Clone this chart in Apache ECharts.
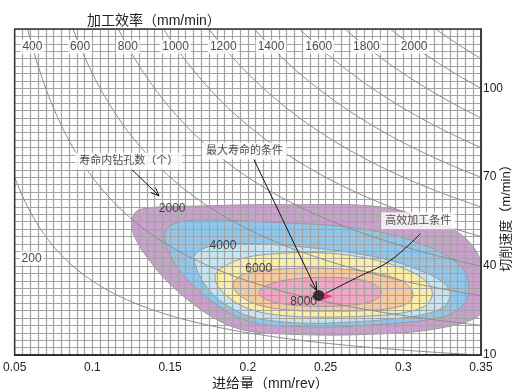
<!DOCTYPE html>
<html>
<head>
<meta charset="utf-8">
<script src="https://cdn.jsdelivr.net/npm/echarts@6/dist/echarts.min.js"></script>
<style>
  html, body { margin: 0; padding: 0; background: #fff; }
  #chart { width: 512px; height: 389px; }
</style>
</head>
<body>
<div id="chart"></div>
<script>
// ---- Axes ----
const FEED_TICKS = [0.05, 0.1, 0.15, 0.2, 0.25, 0.3, 0.35];
const FEED_TICK_LABELS = ['0.05', '0.1', '0.15', '0.2', '0.25', '0.3', '0.35'];
const SPEED_TICKS = [10, 40, 70, 100];
const SPEED_TICK_LABELS = ['10', '40', '70', '100'];

// ---- Machining efficiency (mm/min) = feed x spindle speed ----
const DRILL_DIAMETER = 5.57; // mm
const EFFICIENCY_LEVELS = [200, 400, 600, 800, 1000, 1200, 1400, 1600, 1800, 2000, 2200];
const EFFICIENCY_TOP_LABELS = [400, 600, 800, 1000, 1200, 1400, 1600, 1800, 2000];

// ---- Holes drilled per tool life: contour boundaries [feed, speed], outer to inner ----
const LIFE_LEVELS = [2000, 3000, 4000, 5000, 6000, 7000];
const LIFE_2000 = [
  [0.1256, 52.6], [0.1263, 57.0], [0.1301, 59.0], [0.1442, 60.0], [0.1699, 60.3],
  [0.2019, 60.7], [0.2340, 60.7], [0.2660, 60.7], [0.2885, 59.7], [0.3077, 57.3],
  [0.3269, 53.6], [0.3397, 49.6], [0.3481, 44.0], [0.3500, 39.5], [0.3500, 24.4],
  [0.3417, 21.4], [0.3269, 19.4], [0.3045, 17.7], [0.2788, 17.0], [0.2532, 16.7],
  [0.2276, 17.0], [0.2051, 17.7], [0.1891, 19.7], [0.1731, 24.1], [0.1603, 29.1],
  [0.1474, 35.2], [0.1378, 41.2], [0.1301, 46.9]
];
const LIFE_3000 = [
  [0.1462, 50.3], [0.1494, 53.3], [0.1571, 55.0], [0.1731, 55.6], [0.1955, 55.3],
  [0.2212, 54.6], [0.2468, 54.0], [0.2724, 52.6], [0.2949, 50.3], [0.3141, 46.9],
  [0.3301, 42.9], [0.3397, 37.9], [0.3423, 31.8], [0.3378, 26.4], [0.3269, 23.1],
  [0.3045, 21.1], [0.2788, 20.1], [0.2532, 19.4], [0.2276, 19.7], [0.2083, 20.4],
  [0.1923, 23.1], [0.1776, 27.8], [0.1647, 33.5], [0.1551, 39.2], [0.1494, 44.6]
];
const LIFE_4000 = [
  [0.1654, 43.2], [0.1699, 45.6], [0.1795, 46.9], [0.1955, 47.6], [0.2179, 47.2],
  [0.2404, 46.2], [0.2660, 44.6], [0.2917, 41.9], [0.3109, 38.5], [0.3250, 34.8],
  [0.3301, 30.8], [0.3263, 26.4], [0.3141, 23.8], [0.2917, 22.1], [0.2660, 21.1],
  [0.2404, 20.7], [0.2179, 21.4], [0.2006, 23.1], [0.1878, 26.4], [0.1763, 31.1],
  [0.1686, 37.2], [0.1660, 40.9]
];
const LIFE_5000 = [
  [0.1795, 37.5], [0.1859, 40.2], [0.1987, 42.9], [0.2179, 44.2], [0.2404, 44.6],
  [0.2660, 43.6], [0.2885, 41.2], [0.3058, 37.9], [0.3160, 34.2], [0.3186, 30.1],
  [0.3135, 26.4], [0.2981, 24.1], [0.2756, 23.1], [0.2500, 22.8], [0.2276, 23.1],
  [0.2083, 24.4], [0.1942, 27.1], [0.1840, 31.1], [0.1795, 34.5]
];
const LIFE_6000 = [
  [0.1910, 34.8], [0.1974, 37.2], [0.2083, 38.5], [0.2276, 39.2], [0.2532, 39.2],
  [0.2756, 38.2], [0.2936, 36.2], [0.3045, 32.8], [0.3058, 29.1], [0.2981, 26.4],
  [0.2788, 25.1], [0.2532, 24.8], [0.2276, 25.1], [0.2071, 26.8], [0.1955, 29.8],
  [0.1910, 32.5]
];
const LIFE_7000 = [
  [0.2071, 31.1], [0.2135, 33.8], [0.2276, 35.5], [0.2468, 36.2], [0.2660, 35.8],
  [0.2801, 34.2], [0.2859, 31.1], [0.2814, 28.5], [0.2660, 26.8], [0.2436, 26.4],
  [0.2244, 27.1], [0.2115, 28.8]
];
const LIFE_CONTOURS = [LIFE_2000, LIFE_3000, LIFE_4000, LIFE_5000, LIFE_6000, LIFE_7000];
const LIFE_LABEL_VALUES = [2000, 4000, 6000, 8000];

// ---- Highlighted conditions [feed, speed] ----
const MAX_LIFE_POINT = [0.2455, 30.1];
const HIGH_EFFICIENCY_POINT = [0.2513, 29.8];

// ---- Styling and annotation layout ----
const LIFE_COLORS = ['#c9a1cd', '#8ec6ec', '#c6e5f2', '#fbeea6', '#f6c9a1', '#f1a6c4'];
const LIFE_LABEL_ANCHORS = [[0.1513, 59.3], [0.1840, 46.9], [0.2070, 39.2], [0.2359, 28.0]];
const TOP_LABEL_SPEED = 114;
const LEFT_LABEL = { text: '200', at: [0.0609, 42.6] };
const NOTES = [
  { text: '寿命内钻孔数（个）', at: [0.1234, 75.4] },
  { text: '最大寿命的条件', at: [0.1978, 78.8] },
  { text: '高效加工条件', at: [0.3096, 55.3] }
];
const ARROWS = [
  { path: [[0.1250, 72.75], [0.1429, 63.7]], head: true },
  { path: [[0.2038, 76.1], [0.2442, 31.8]], head: true },
  { path: [[0.3109, 50.9], [0.2917, 41.9], [0.2705, 36.2], [0.2500, 30.8]], head: false }
];

const FONT = '"Liberation Sans", "Noto Sans CJK SC", sans-serif';
const K = Math.PI * DRILL_DIAMETER / 1000;

function speedFor(eff, feed) { return eff * K / feed; }

function tickLabel(ticks, labels) {
  return function (v) {
    const i = ticks.findIndex(t => Math.abs(t - v) < 1e-6);
    return i >= 0 ? labels[i] : '';
  };
}

const series = [];

// Tool-life bands
LIFE_CONTOURS.forEach((pts, i) => {
  series.push({
    type: 'custom',
    name: 'life' + LIFE_LEVELS[i],
    coordinateSystem: 'cartesian2d',
    z: 1,
    silent: true,
    clip: true,
    data: [pts[0]],
    renderItem: function (params, api) {
      return {
        type: 'polygon',
        shape: { points: pts.map(p => api.coord(p)), smooth: 0.35 },
        style: { fill: LIFE_COLORS[i], stroke: '#9a9a9a', lineWidth: 1 }
      };
    }
  });
});

// Iso-efficiency curves
EFFICIENCY_LEVELS.forEach(eff => {
  const data = [];
  for (let k = 0; k <= 300; k++) {
    const f = 0.05 + k * 0.001;
    const v = speedFor(eff, f);
    if (v <= 140 && v >= 8) data.push([f, v]);
  }
  series.push({
    type: 'line',
    data: data,
    showSymbol: false,
    smooth: false,
    clip: true,
    silent: true,
    z: 4,
    lineStyle: { color: '#8c8c8c', width: 1 }
  });
});

// Arrows and leader lines
series.push({
  type: 'custom',
  coordinateSystem: 'cartesian2d',
  z: 7,
  silent: true,
  data: ARROWS.map(a => a.path[0]),
  renderItem: function (params, api) {
    const a = ARROWS[params.dataIndex];
    const pts = a.path.map(p => api.coord(p));
    const children = [{
      type: 'polyline',
      shape: { points: pts, smooth: a.path.length > 2 ? 0.4 : 0 },
      style: { stroke: '#111', lineWidth: 1, fill: null }
    }];
    if (a.head) {
      const tip = pts[pts.length - 1], prev = pts[pts.length - 2];
      const ang = Math.atan2(tip[1] - prev[1], tip[0] - prev[0]);
      const L = 9, w = 0.4;
      children.push({
        type: 'polyline',
        shape: { points: [
          [tip[0] - L * Math.cos(ang - w), tip[1] - L * Math.sin(ang - w)],
          tip,
          [tip[0] - L * Math.cos(ang + w), tip[1] - L * Math.sin(ang + w)]
        ] },
        style: { stroke: '#111', lineWidth: 1, fill: null }
      });
    }
    return { type: 'group', children: children };
  }
});

// Efficiency labels along the top
series.push({
  type: 'scatter',
  z: 6,
  silent: true,
  symbolSize: 0,
  data: EFFICIENCY_TOP_LABELS.map(e => ({ value: [e * K / TOP_LABEL_SPEED, TOP_LABEL_SPEED], name: String(e) }))
    .concat([{ value: LEFT_LABEL.at, name: LEFT_LABEL.text }]),
  label: {
    show: true, position: 'inside', formatter: '{b}',
    color: '#222', fontFamily: FONT, fontSize: 12,
    backgroundColor: '#fff', padding: [1, 2]
  }
});

// Tool-life contour labels
series.push({
  type: 'scatter',
  z: 6,
  silent: true,
  symbolSize: 0,
  data: LIFE_LABEL_VALUES.map((v, i) => ({ value: LIFE_LABEL_ANCHORS[i], name: String(v) })),
  label: {
    show: true, position: 'inside', formatter: '{b}',
    color: '#222', fontFamily: FONT, fontSize: 12
  }
});

// Note boxes
series.push({
  type: 'scatter',
  z: 8,
  silent: true,
  symbolSize: 0,
  data: NOTES.map(n => ({ value: n.at, name: n.text })),
  label: {
    show: true, position: 'inside', formatter: '{b}',
    color: '#222', fontFamily: FONT, fontSize: 11,
    backgroundColor: '#fff', padding: [3, 4]
  }
});

// High-efficiency marker and maximum-life point
series.push({
  type: 'scatter',
  z: 9,
  silent: true,
  data: [HIGH_EFFICIENCY_POINT],
  symbol: 'triangle',
  symbolRotate: -90,
  symbolSize: [8, 10],
  itemStyle: { color: '#e5227f' }
});
series.push({
  type: 'scatter',
  z: 10,
  silent: true,
  data: [MAX_LIFE_POINT],
  symbol: 'circle',
  symbolSize: 11,
  itemStyle: { color: '#111' }
});

const chart = echarts.init(document.getElementById('chart'), null, { renderer: 'canvas' });
chart.setOption({
  animation: false,
  backgroundColor: '#fff',
  title: [
    { text: '加工效率（mm/min）', left: 82, top: 9,
      textStyle: { fontFamily: FONT, fontSize: 14, fontWeight: 'normal', color: '#222' } },
    { text: '进给量（mm/rev）', left: 207, top: 372,
      textStyle: { fontFamily: FONT, fontSize: 14, fontWeight: 'normal', color: '#222' } }
  ],
  graphic: [{
    type: 'text', x: 506, y: 215, rotation: Math.PI / 2,
    style: { text: '切削速度（m/min）', font: '13px ' + FONT, fill: '#222',
      textAlign: 'center', textVerticalAlign: 'middle' }
  }],
  grid: {
    left: 13, right: 31, top: 29, bottom: 34, show: true, z: 5,
    borderColor: '#333', borderWidth: 1.5, backgroundColor: 'transparent'
  },
  xAxis: {
    type: 'value', min: 0.05, max: 0.35, interval: 0.005, z: 3,
    axisLine: { show: true, lineStyle: { color: '#333', width: 2 } },
    axisTick: { show: false },
    splitLine: { show: true, lineStyle: { color: '#a3a3a3', width: 1.2 } },
    axisLabel: { interval: 0, margin: 7, color: '#222', fontFamily: FONT, fontSize: 12,
      formatter: tickLabel(FEED_TICKS, FEED_TICK_LABELS), hideOverlap: false }
  },
  yAxis: {
    type: 'value', position: 'right', min: 10, max: 120, interval: 2.5, z: 3,
    axisLine: { show: true, lineStyle: { color: '#333', width: 1.5 } },
    axisTick: { show: false },
    splitLine: { show: true, lineStyle: { color: '#a3a3a3', width: 1.2 } },
    axisLabel: { interval: 0, margin: 2, color: '#222', fontFamily: FONT, fontSize: 12,
      formatter: tickLabel(SPEED_TICKS, SPEED_TICK_LABELS), hideOverlap: false }
  },
  series: series
});
</script>
</body>
</html>
